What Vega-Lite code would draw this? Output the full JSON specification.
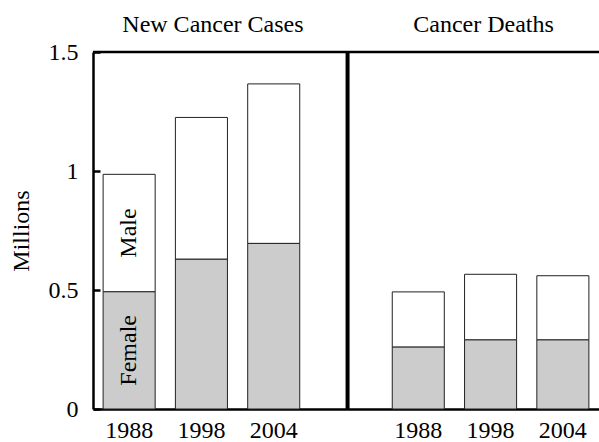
{
  "$schema": "https://vega.github.io/schema/vega-lite/v6.json",
  "width": 506,
  "height": 357,
  "autosize": "none",
  "padding": {"left": 93, "top": 52, "right": 0, "bottom": 33},
  "background": "white",
  "config": {
    "view": {"stroke": null},
    "font": "Liberation Serif",
    "axis": {"labelFont": "Liberation Serif", "titleFont": "Liberation Serif", "labelColor": "#000", "titleColor": "#000", "grid": false}
  },
  "datasets": {
    "bars": [
      {"slot": "c1988", "sex": "Female", "value": 0.493},
      {"slot": "c1988", "sex": "Male", "value": 0.493},
      {"slot": "c1998", "sex": "Female", "value": 0.630},
      {"slot": "c1998", "sex": "Male", "value": 0.595},
      {"slot": "c2004", "sex": "Female", "value": 0.696},
      {"slot": "c2004", "sex": "Male", "value": 0.670},
      {"slot": "d1988", "sex": "Female", "value": 0.261},
      {"slot": "d1988", "sex": "Male", "value": 0.231},
      {"slot": "d1998", "sex": "Female", "value": 0.291},
      {"slot": "d1998", "sex": "Male", "value": 0.275},
      {"slot": "d2004", "sex": "Female", "value": 0.291},
      {"slot": "d2004", "sex": "Male", "value": 0.269}
    ],
    "divider": [{"slot": "div"}],
    "heads": [
      {"slot": "c1998", "label": "New Cancer Cases"},
      {"slot": "d1998", "label": "Cancer Deaths"}
    ]
  },
  "encoding": {
    "x": {
      "field": "slot",
      "type": "nominal",
      "sort": ["c1988", "c1998", "c2004", "div", "d1988", "d1998", "d2004"],
      "scale": {"domain": ["c1988", "c1998", "c2004", "div", "d1988", "d1998", "d2004"], "paddingInner": 0.28, "paddingOuter": 0.14},
      "axis": {
        "title": null,
        "labelAngle": 0,
        "labelExpr": "datum.value == 'div' ? '' : substring(datum.value, 1)",
        "labelFontSize": 24,
        "labelPadding": 9,
        "ticks": false,
        "domainColor": "#000",
        "domainWidth": 2.5
      }
    }
  },
  "layer": [
    {
      "data": {"name": "bars"},
      "transform": [
        {"stack": "value", "groupby": ["slot"], "sort": [{"field": "sex", "order": "ascending"}], "as": ["v0", "v1"]}
      ],
      "layer": [
        {
          "mark": {"type": "bar", "stroke": "#222", "strokeWidth": 1},
          "encoding": {
            "y": {
              "field": "v0",
              "type": "quantitative",
              "scale": {"domain": [0, 1.5], "nice": false},
              "axis": {
                "title": "Millions",
                "titleFontSize": 24,
                "titleFontWeight": "normal",
                "titlePadding": 15,
                "values": [0, 0.5, 1, 1.5],
                "format": ".1~f",
                "labelFontSize": 24,
                "labelPadding": 22,
                "tickSize": -7,
                "tickWidth": 2.5,
                "tickColor": "#000",
                "domainColor": "#000",
                "domainWidth": 2.5
              }
            },
            "y2": {"field": "v1"},
            "fill": {
              "field": "sex",
              "type": "nominal",
              "scale": {"domain": ["Female", "Male"], "range": ["#cccccc", "#ffffff"]},
              "legend": null
            }
          }
        },
        {
          "transform": [
            {"filter": "datum.slot == 'c1988'"},
            {"calculate": "(datum.v0 + datum.v1) / 2", "as": "mid"}
          ],
          "mark": {"type": "text", "angle": 270, "fontSize": 24, "font": "Liberation Serif", "color": "#000", "baseline": "middle", "align": "center"},
          "encoding": {
            "y": {"field": "mid", "type": "quantitative"},
            "text": {"field": "sex"}
          }
        }
      ]
    },
    {
      "data": {"name": "divider"},
      "mark": {"type": "rule", "strokeWidth": 4, "color": "#000"},
      "encoding": {"x": {"field": "slot", "type": "nominal", "bandPosition": 0.53}}
    },
    {
      "data": {"name": "divider"},
      "mark": {"type": "rule", "strokeWidth": 2.5, "color": "#000"},
      "encoding": {"x": null, "y": {"datum": 1.5, "type": "quantitative"}}
    },
    {
      "data": {"name": "heads"},
      "transform": [{"filter": "datum.slot == 'c1998'"}],
      "mark": {"type": "text", "fontSize": 24, "font": "Liberation Serif", "color": "#000", "baseline": "alphabetic", "dy": -20, "dx": 11.5},
      "encoding": {
        "y": {"datum": 1.5, "type": "quantitative"},
        "text": {"field": "label"}
      }
    },
    {
      "data": {"name": "heads"},
      "transform": [{"filter": "datum.slot == 'd1998'"}],
      "mark": {"type": "text", "fontSize": 24, "font": "Liberation Serif", "color": "#000", "baseline": "alphabetic", "dy": -20, "dx": -7},
      "encoding": {
        "y": {"datum": 1.5, "type": "quantitative"},
        "text": {"field": "label"}
      }
    }
  ]
}
